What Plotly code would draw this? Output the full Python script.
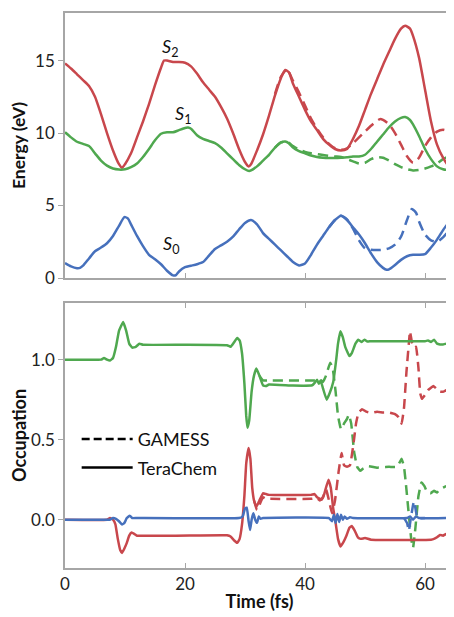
import plotly.graph_objects as go
from plotly.subplots import make_subplots

# ---------------- Top panel: energies (eV) ----------------
t_s2_tc = [0, 1, 2, 3, 4, 5, 6, 7, 8, 9, 9.5, 10, 11, 12, 13, 14, 15, 16, 16.5, 17, 18, 19, 20, 21, 22, 23, 24, 25, 26, 27, 28, 29, 30, 30.6, 31, 32, 33, 34, 35, 36, 36.7, 37.3, 38, 39, 40, 41, 42, 43, 44, 45, 46, 47, 48, 49, 50, 51, 52, 53, 54, 55, 56, 56.7, 57.5, 58, 59, 60, 61, 62, 63, 64, 64.5, 65]
e_s2_tc = [14.8, 14.45, 14.05, 13.65, 13.25, 12.5, 11.3, 10.0, 8.8, 7.85, 7.6, 7.85, 8.6, 9.7, 10.8, 12.0, 13.3, 14.5, 15.0, 15.0, 14.9, 14.9, 14.85, 14.6, 14.1, 13.5, 13.0, 12.5, 11.8, 11.0, 10.0, 8.9, 8.0, 7.7, 7.85, 8.8, 9.9, 11.2, 12.6, 13.8, 14.35, 14.2, 13.4, 12.5, 11.6, 10.8, 10.2, 9.6, 9.2, 8.9, 8.8, 8.9, 9.6, 10.5, 11.6, 12.7, 13.7, 14.7, 15.6, 16.5, 17.2, 17.4, 17.2, 16.7, 15.2, 13.0, 10.8, 9.2, 8.3, 7.7, 7.65, 7.9]

t_s2_gm = [35, 36, 37, 38, 39, 40, 41, 42, 43, 44, 45, 46, 47, 48, 49, 50, 51, 52, 52.5, 53, 54, 55, 56, 57, 58, 59, 60, 61, 62, 63, 64, 65]
e_s2_gm = [12.7, 13.9, 14.4, 13.6, 12.8, 11.9, 11.0, 10.3, 9.7, 9.25, 8.95, 8.85, 8.95, 9.3, 9.7, 10.1, 10.5, 10.85, 10.96, 10.9, 10.6, 10.0, 9.2, 8.4, 7.95, 8.3, 9.1, 9.7, 10.1, 10.23, 10.1, 9.8]

t_s1_tc = [0, 1, 2, 3, 4, 5, 6, 7, 8, 9, 10, 11, 12, 13, 14, 15, 16, 17, 18, 19, 20, 20.5, 21, 22, 23, 24, 25, 26, 27, 28, 29, 30, 30.7, 31, 32, 33, 34, 35, 36, 36.7, 37.3, 38, 39, 40, 41, 42, 43, 44, 45, 46, 47, 48, 49, 50, 51, 52, 53, 54, 55, 56, 56.7, 57.5, 58, 59, 60, 61, 62, 63, 63.5, 64, 65]
e_s1_tc = [10.05, 9.7, 9.4, 9.25, 9.1, 8.6, 8.1, 7.75, 7.55, 7.48, 7.5, 7.65, 7.9, 8.35, 8.9, 9.5, 9.95, 10.05, 10.05, 10.2, 10.35, 10.38, 10.3, 9.85, 9.6, 9.45, 9.3, 9.0, 8.6, 8.2, 7.8, 7.5, 7.38, 7.42, 7.7, 8.1, 8.5, 9.0, 9.35, 9.42, 9.3, 9.0, 8.75, 8.6, 8.45, 8.35, 8.3, 8.28, 8.28, 8.3, 8.33, 8.38, 8.38, 8.5, 8.9, 9.4, 9.9, 10.4, 10.8, 11.05, 11.1, 10.9, 10.6, 9.8, 8.9, 8.2, 7.7, 7.5, 7.47, 7.55, 7.8]

t_s1_gm = [35, 36, 37, 38, 39, 40, 41, 42, 43, 44, 45, 46, 47, 48, 49, 50, 51, 52, 53, 54, 55, 56, 57, 58, 59, 60, 61, 62, 63, 64, 65]
e_s1_gm = [9.0, 9.35, 9.4, 9.1, 8.85, 8.7, 8.6, 8.55, 8.48, 8.42, 8.38, 8.35, 8.2, 8.05, 7.9, 7.95, 8.2, 8.34, 8.3, 8.1, 7.85, 7.65, 7.5, 7.42, 7.45, 7.55, 7.7, 7.9, 8.2, 8.38, 8.4]

t_s0_tc = [0, 1, 2, 2.5, 3, 4, 5, 6, 7, 8, 9, 9.9, 10.5, 11, 12, 13, 14, 15, 16, 17, 18, 18.5, 19, 20, 21, 22, 23, 24, 25, 26, 27, 28, 29, 30, 31, 32, 33, 34, 35, 36, 37, 38, 39, 40, 41, 42, 43, 44, 45, 46, 47, 48, 49, 50, 51, 52, 53, 53.6, 54, 55, 56, 57, 58, 59, 60, 61, 62, 63, 64, 65]
e_s0_tc = [1.03, 0.8, 0.68, 0.7, 0.85, 1.35, 1.85, 2.1, 2.4, 2.9, 3.6, 4.2, 4.1, 3.7, 2.9, 2.2, 1.6, 1.3, 0.95, 0.5, 0.18, 0.2, 0.45, 0.75, 0.85, 0.95, 1.1, 1.55, 2.0, 2.25, 2.5, 2.85, 3.35, 3.8, 4.0, 3.7, 3.1, 2.7, 2.3, 1.9, 1.5, 1.1, 0.87, 1.0, 1.6, 2.3, 2.9, 3.5, 4.0, 4.3, 4.0, 3.5, 3.0, 2.4, 1.7, 1.1, 0.7, 0.57, 0.6, 0.9, 1.25, 1.5, 1.6, 1.6, 1.65, 2.1, 2.65, 3.3, 3.85, 4.2]

t_s0_gm = [44, 45, 46, 47, 48, 49, 50, 51, 52, 53, 54, 55, 56, 57, 57.8, 58.5, 59, 60, 61, 62, 63, 64, 65]
e_s0_gm = [3.5, 4.0, 4.3, 4.05, 3.4, 2.6, 2.05, 1.95, 1.93, 1.95, 2.05, 2.3, 2.85, 4.0, 4.76, 4.5, 3.9, 3.0, 2.6, 2.5, 2.8, 3.25, 3.45]

# ---------------- Bottom panel: occupations ----------------
t_o1_tc = [0, 6, 6.5, 7, 7.5, 8, 8.5, 9, 9.7, 10.2, 10.7, 11.2, 11.8, 12.4, 13, 20, 27, 27.6, 28.2, 28.7, 29.1, 29.5, 29.9, 30.2, 30.4, 30.7, 31.1, 31.5, 31.9, 32.4, 33, 33.5, 34, 38, 41.2, 41.6, 42, 42.3, 42.6, 43, 43.6, 44.1, 44.7, 45.2, 45.5, 45.9, 46.3, 46.7, 47.4, 47.8, 48.4, 48.9, 49.4, 49.9, 50.4, 51, 60, 60.5, 61, 61.5, 62, 62.5, 63, 63.5, 64, 64.3, 64.5, 64.7]
o1_tc = [1.0, 1.0, 1.01, 1.0, 0.995, 1.01, 1.08, 1.18, 1.235, 1.18, 1.1, 1.075, 1.08, 1.1, 1.093, 1.093, 1.09, 1.08, 1.11, 1.135, 1.12, 1.04, 0.85, 0.65, 0.575, 0.62, 0.8, 0.9, 0.945, 0.9, 0.84, 0.835, 0.845, 0.838, 0.84, 0.855, 0.875, 0.85, 0.87, 0.82, 0.75, 0.79, 0.86, 1.0, 1.1, 1.178, 1.14, 1.08, 1.022, 1.04, 1.1, 1.125, 1.11, 1.125, 1.113, 1.115, 1.115, 1.12, 1.11, 1.125, 1.1, 1.095, 1.095, 1.1, 1.095, 1.12, 1.125, 1.0]

t_o1_gm = [32.4, 33, 34, 41.5, 42.5, 43, 43.5, 44.2, 44.6, 45.1, 45.5, 46.0, 46.5, 47.0, 47.3, 47.7, 48.2, 48.7, 49.2, 49.7, 50.5, 52, 54, 55.3, 55.8, 56.1, 56.5, 56.9, 57.3, 57.7, 58.0, 58.4, 58.9, 59.4, 59.9, 60.4, 60.9, 61.5, 62, 62.5, 63, 63.6, 64, 64.5, 64.8]
o1_gm = [0.9, 0.87, 0.87, 0.87, 0.875, 0.86, 0.9, 0.98, 0.95, 0.8, 0.65, 0.565, 0.6, 0.63, 0.656, 0.6, 0.42, 0.33, 0.305, 0.32, 0.335, 0.325, 0.33, 0.33, 0.36, 0.38, 0.33, 0.19, 0.03, -0.12, -0.177, -0.05, 0.146, 0.233, 0.21, 0.17, 0.165, 0.18, 0.17, 0.19, 0.2, 0.21, 0.18, 0.15, 0.16]

t_o2_tc = [0, 7, 7.5, 8, 8.4, 8.8, 9.2, 9.5, 9.9, 10.3, 10.7, 11.1, 11.6, 12, 27, 27.6, 28.2, 28.7, 29.1, 29.5, 29.9, 30.2, 30.6, 30.9, 31.2, 31.5, 31.9, 32.4, 33, 33.5, 34, 41, 41.6, 42, 42.5, 42.8, 43.2, 43.9, 44.3, 44.7, 45.1, 45.5, 45.9, 46.4, 46.9, 47.4, 47.8, 48.3, 48.8, 49.3, 50, 51, 61, 61.5, 62, 62.5, 63, 63.5, 64, 64.4, 64.6]
o2_tc = [0.0, 0.0, 0.01, 0.0, -0.03, -0.12, -0.19, -0.208, -0.18, -0.145, -0.1, -0.08, -0.09, -0.1, -0.098, -0.105, -0.13, -0.145, -0.12, -0.03, 0.15, 0.35, 0.448, 0.38, 0.2, 0.12, 0.08, 0.12, 0.165, 0.16, 0.155, 0.155, 0.16, 0.14, 0.13, 0.125, 0.16, 0.25, 0.2, 0.07, -0.02, -0.12, -0.167, -0.14, -0.1, -0.05, -0.04, -0.07, -0.11, -0.12, -0.115, -0.125, -0.125, -0.12, -0.11, -0.095, -0.1, -0.09, -0.1, -0.08, 0.0]

t_o2_gm = [31.5, 32.0, 32.5, 33, 33.5, 34, 41, 42, 42.5, 43.0, 43.5, 44.0, 44.5, 45.0, 45.6, 46.1, 46.5, 47.0, 47.5, 48.1, 48.5, 48.9, 49.5, 50.2, 51, 52, 53, 54, 55, 55.6, 56.1, 56.5, 56.9, 57.3, 57.5, 57.8, 58.1, 58.5, 58.9, 59.2, 59.5, 60, 60.5, 61, 61.4, 62, 62.5, 63.1, 63.6, 64.2, 64.5, 64.8]
o2_gm = [0.12, 0.06, 0.1, 0.14, 0.13, 0.13, 0.13, 0.135, 0.12, 0.14, 0.19, 0.12, 0.04, 0.12, 0.3, 0.417, 0.34, 0.33, 0.34, 0.48, 0.6, 0.667, 0.69, 0.675, 0.668, 0.675, 0.67, 0.67, 0.66, 0.64, 0.6, 0.7, 0.92, 1.1, 1.177, 1.11, 1.075, 1.08, 0.95, 0.79, 0.755, 0.78, 0.81, 0.825, 0.835, 0.815, 0.8, 0.8, 0.81, 0.79, 0.83, 0.87]

t_o0_tc = [0, 7, 7.5, 8, 8.5, 9, 9.5, 9.9, 10.3, 10.8, 11.2, 12, 29, 29.6, 30.0, 30.3, 30.6, 30.85, 31.1, 31.4, 31.7, 32.0, 32.3, 32.6, 33, 44, 44.5, 44.8, 45.1, 45.4, 45.7, 46, 46.3, 46.6, 47, 47.5, 48, 57, 57.5, 58, 58.5, 59, 63.5, 64, 64.8]
o0_tc = [0.0, 0.0, 0.0, 0.01, 0.005, -0.01, -0.03, -0.02, 0.01, 0.025, 0.01, 0.01, 0.01, 0.02, 0.07, 0.075, -0.01, -0.065, 0.0, 0.04, 0.0, -0.02, 0.02, 0.005, 0.01, 0.01, -0.01, 0.03, -0.02, 0.035, -0.015, 0.03, 0.0, 0.02, 0.005, 0.015, 0.01, 0.01, 0.02, 0.0, 0.02, 0.01, 0.01, 0.015, 0.01]

t_o0_gm = [56.5, 57.0, 57.3, 57.6, 58.0, 58.2, 58.5, 58.8, 60]
o0_gm = [0.01, -0.02, -0.07, 0.0, 0.09, 0.115, 0.05, 0.01, 0.01]

RED = "#C8474C"
GREEN = "#4FA84F"
BLUE = "#4670BC"
AXC = "#A6A6A6"
DASH = "10px,6px"
LW = 2.5
FONT = "Lato"

fig = make_subplots(rows=2, cols=1)

def add(t, v, color, dash, row):
    fig.add_trace(go.Scatter(x=t, y=v, mode="lines", showlegend=False,
                             line=dict(color=color, width=LW, dash=dash,
                                       shape="spline", smoothing=0.6)),
                  row=row, col=1)

# top panel: dashed (GAMESS) below, solid (TeraChem) above
add(t_s2_gm, e_s2_gm, RED, DASH, 1)
add(t_s1_gm, e_s1_gm, GREEN, DASH, 1)
add(t_s0_gm, e_s0_gm, BLUE, DASH, 1)
add(t_s2_tc, e_s2_tc, RED, "solid", 1)
add(t_s1_tc, e_s1_tc, GREEN, "solid", 1)
add(t_s0_tc, e_s0_tc, BLUE, "solid", 1)

def addo(t, v, color, dash, row=2):
    fig.add_trace(go.Scatter(x=t, y=v, mode="lines", showlegend=False,
                             line=dict(color=color, width=LW, dash=dash,
                                       shape="spline", smoothing=0.3)),
                  row=row, col=1)

addo(t_o1_gm, o1_gm, GREEN, DASH)
addo(t_o2_gm, o2_gm, RED, DASH)
addo(t_o0_gm, o0_gm, BLUE, DASH)
addo(t_o1_tc, o1_tc, GREEN, "solid")
addo(t_o2_tc, o2_tc, RED, "solid")
addo(t_o0_tc, o0_tc, BLUE, "solid")

# legend entries
fig.add_trace(go.Scatter(x=[None], y=[None], mode="lines", name="GAMESS",
                         legendgroup="g", line=dict(color="black", width=LW, dash="8px,4px")),
              row=2, col=1)
fig.add_trace(go.Scatter(x=[None], y=[None], mode="lines", name="TeraChem",
                         legendgroup="t", line=dict(color="black", width=LW)),
              row=2, col=1)

XR = [0, 64.83]
common_x = dict(range=XR, showgrid=False, zeroline=False, showline=True,
                linecolor=AXC, linewidth=1.5, ticks="inside", ticklen=5,
                tickcolor=AXC, tickvals=[0, 20, 40, 60], automargin=False)
fig.update_xaxes(**common_x, showticklabels=False, mirror=True, row=1, col=1)
fig.update_xaxes(**common_x, showticklabels=True, mirror="ticks",
                 ticktext=["0", "20", "40", "60"],
                 tickfont=dict(family=FONT, size=17, color="#222"),
                 title=dict(text="<b>Time (fs)</b>", standoff=2,
                            font=dict(family=FONT, size=18, color="#111")),
                 row=2, col=1)

common_y = dict(showgrid=False, zeroline=False, showline=True, linecolor=AXC,
                linewidth=1.5, ticks="outside", ticklen=5, tickcolor=AXC,
                automargin=False,
                tickfont=dict(family=FONT, size=17, color="#222"))
fig.update_yaxes(**common_y, range=[0, 18.28], tickvals=[0, 5, 10, 15],
                 title=dict(text="<b>Energy (eV)</b>", standoff=8,
                            font=dict(family=FONT, size=17.5, color="#111")),
                 domain=[0.5225, 1.0], row=1, col=1)
fig.update_yaxes(**common_y, range=[-0.302, 1.354], tickvals=[0, 0.5, 1.0],
                 tickformat=".1f",
                 title=dict(text="<b>Occupation</b>", standoff=6,
                            font=dict(family=FONT, size=18, color="#111")),
                 domain=[0.0, 0.4775], row=2, col=1)

# state labels
for txt, xx, yy in [("<i>S</i><sub>2</sub>", 17.5, 15.9),
                    ("<i>S</i><sub>1</sub>", 19.7, 11.3),
                    ("<i>S</i><sub>0</sub>", 17.7, 2.3)]:
    fig.add_annotation(x=xx, y=yy, xref="x", yref="y", text=txt, showarrow=False,
                       font=dict(family=FONT, size=18, color="#111"))

# the page body has an 8px margin, so the figure is sized/offset to fit the 454x617 window
fig.update_layout(
    width=446, height=609,
    margin=dict(l=57, r=0, t=5, b=49),
    plot_bgcolor="white", paper_bgcolor="white",
    showlegend=True,
    legend=dict(x=0.03, y=0.265, xanchor="left", yanchor="top",
                bgcolor="rgba(0,0,0,0)", tracegroupgap=2, itemwidth=51,
                font=dict(family=FONT, size=18, color="#111")),
)

fig.write_html("out.html")
